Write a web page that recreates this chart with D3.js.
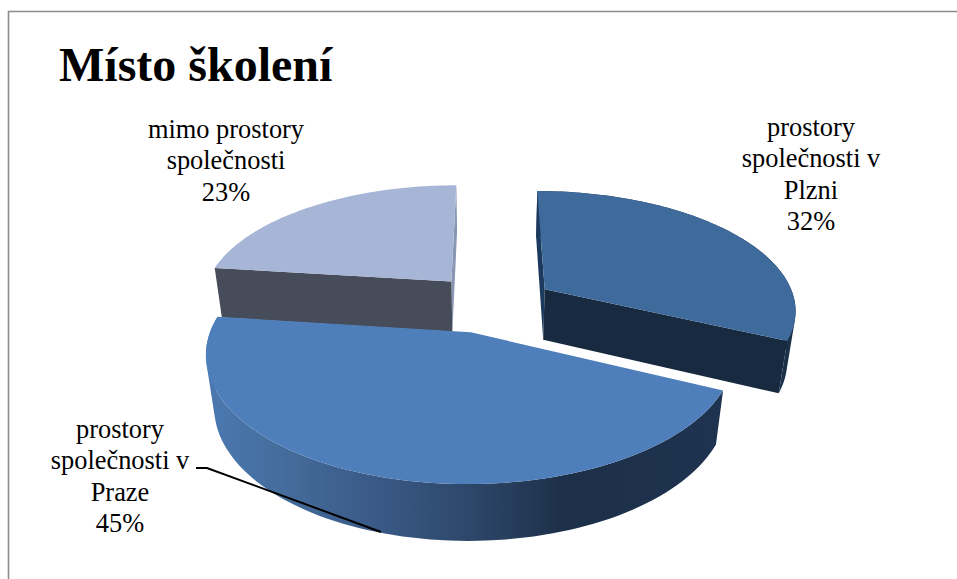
<!DOCTYPE html>
<html lang="cs">
<head>
<meta charset="utf-8">
<title>Místo školení</title>
<script src="https://cdn.jsdelivr.net/npm/d3@7"></script>
<style>
  html, body { margin: 0; padding: 0; background: #fff; }
  svg { display: block; }
  text { font-family: "Liberation Serif", "Times New Roman", serif; fill: #000; }
</style>
</head>
<body>
<svg id="chart" width="957" height="579"></svg>
<script>
// Slice data, in drawing order clockwise from twelve o'clock
const categories = ["prostory společnosti v Plzni", "prostory společnosti v Praze", "mimo prostory společnosti"];
const shares = [32, 45, 23];
const labelLines = [
  ["prostory", "společnosti v", "Plzni", "32%"],
  ["prostory", "společnosti v", "Praze", "45%"],
  ["mimo prostory", "společnosti", "23%"]
];
const topColors = ["#3f6a9c", "#4f7fbb", "#a7b6d6"];
const labelAnchors = [[811, 136], [120, 438], [226, 138]];
// Small extra offset of each slice on the disc plane, on top of the common explosion
const sliceNudgeX = [0.015, 0, 0.011];
const sliceNudgeY = [-0.015, 0, 0];

const W = 957, H = 579;
const svg = d3.select("#chart");

// Perspective camera for the tilted disc: z = 0 is the top face, z = 1 the bottom
const cam = { cx: 489, cy: 303, rx: 251, ry: 117.6, p: 0.157, q: 0.028, t: 52.4 };
const explode = 0.25;

function project(x, y, z) {
  const w = 1 + cam.p * y + cam.q * z;
  return [cam.cx + cam.rx * x / w, cam.cy + (-cam.ry * y + cam.t * z) / w];
}

const slices = d3.pie().sort(null).value(d => d)(shares).map((s, i) => {
  const mid = (s.startAngle + s.endAngle) / 2;
  return {
    ...s, i,
    ax: explode * Math.sin(mid) + sliceNudgeX[i],
    ay: explode * Math.cos(mid) + sliceNudgeY[i]
  };
});

const rimPoint = (s, a, z) => project(s.ax + Math.sin(a), s.ay + Math.cos(a), z);
const apexPoint = (s, z) => project(s.ax, s.ay, z);
const rim = (s, a0, a1, z) => d3.range(0, 91).map(k => rimPoint(s, a0 + (a1 - a0) * k / 90, z));

const path = d3.line().curve(d3.curveLinearClosed);

const defs = svg.append("defs");
const wallGrad = defs.append("linearGradient")
  .attr("id", "outerWall")
  .attr("gradientUnits", "userSpaceOnUse")
  .attr("x1", 208).attr("x2", 722).attr("y1", 0).attr("y2", 0);
[[0, "#4a78b0"], [0.12, "#466f9f"], [0.32, "#3a5a87"], [0.52, "#2c4668"], [0.69, "#1d3049"], [1, "#1e3350"]]
  .forEach(([o, c]) => wallGrad.append("stop").attr("offset", o).attr("stop-color", c));

// Frame around the chart area
svg.append("path")
  .attr("d", `M${W},11.5H8.5V${H}`)
  .attr("fill", "none")
  .attr("stroke", "#8c8c8c")
  .attr("stroke-width", 1.6);

svg.append("text")
  .attr("x", 59).attr("y", 81)
  .attr("font-size", 48).attr("font-weight", "bold")
  .text("Místo školení");

const [plzen, praha, mimo] = slices;

function radialWall(s, a) {
  return path([apexPoint(s, 0), rimPoint(s, a, 0), rimPoint(s, a, 1), apexPoint(s, 1)]);
}

// The curved wall is a run of narrow quads, all wound the same way, so that
// their union follows the rim envelope under the non-zero fill rule
function outerWall(s, a0, a1) {
  const upper = rim(s, a0, a1, 0), lower = rim(s, a0, a1, 1);
  return d3.range(upper.length - 1)
    .map(k => {
      const quad = [upper[k], upper[k + 1], lower[k + 1], lower[k]];
      return path(d3.polygonArea(quad) < 0 ? quad.reverse() : quad);
    })
    .join("");
}

function topFace(s) {
  return path([apexPoint(s, 0)].concat(rim(s, s.startAngle, s.endAngle, 0)));
}

const g = svg.append("g").attr("class", "pie");

// Far slice
g.append("path").attr("d", radialWall(mimo, mimo.endAngle)).attr("fill", "#8996b4");
g.append("path").attr("d", radialWall(mimo, mimo.startAngle)).attr("fill", "#474c5a");
g.append("path").attr("d", topFace(mimo)).attr("fill", topColors[2]);

// Right slice
g.append("path").attr("d", outerWall(plzen, plzen.startAngle, plzen.endAngle)).attr("fill", "#1b3049");
g.append("path").attr("d", radialWall(plzen, plzen.startAngle)).attr("fill", "#1c3a5e");
g.append("path").attr("d", radialWall(plzen, plzen.endAngle)).attr("fill", "#182a40");
g.append("path").attr("d", topFace(plzen)).attr("fill", topColors[0]);

// Front slice
g.append("path").attr("d", outerWall(praha, praha.startAngle, praha.endAngle)).attr("fill", "url(#outerWall)");
g.append("path").attr("d", topFace(praha)).attr("fill", topColors[1]);

// Data labels
slices.forEach(s => {
  const [lx, ly] = labelAnchors[s.i];
  const t = svg.append("text")
    .attr("text-anchor", "middle")
    .attr("font-size", 26.4)
    .attr("aria-label", categories[s.i]);
  labelLines[s.i].forEach((line, k) => {
    t.append("tspan").attr("x", lx).attr("y", ly + k * 31.3).text(line);
  });
});

// Leader line from the front slice label to its wall
svg.append("path")
  .attr("d", d3.line()([[196, 468], [207, 468], [381, 532]]))
  .attr("fill", "none")
  .attr("stroke", "#000")
  .attr("stroke-width", 2);
</script>
</body>
</html>
